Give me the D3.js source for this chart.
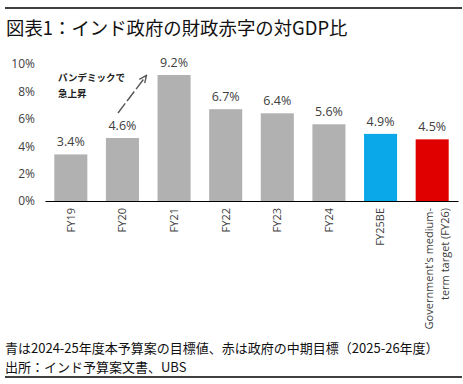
<!DOCTYPE html>
<html><head><meta charset="utf-8">
<script src="https://cdn.jsdelivr.net/npm/d3@7"></script>
<style>
body{margin:0;background:#fff;}
svg{display:block;font-family:"Noto Sans CJK JP","Noto Sans",sans-serif;}
</style></head>
<body><svg id="c" width="463" height="384"></svg>
<script>
const categories = ["FY19","FY20","FY21","FY22","FY23","FY24","FY25BE","Government's medium-\nterm target (FY26)"];
const values = [3.4,4.6,9.2,6.7,6.4,5.6,4.9,4.5];
const valueLabels = ["3.4%","4.6%","9.2%","6.7%","6.4%","5.6%","4.9%","4.5%"];
const barColors = ["#b1b1b1","#b1b1b1","#b1b1b1","#b1b1b1","#b1b1b1","#b1b1b1","#0aa8e8","#e00000"];
const yTicks = [0,2,4,6,8,10];
const title = "図表1：インド政府の財政赤字の対GDP比";
const annotation = ["パンデミックで","急上昇"];
const footnotes = ["青は2024-25年度本予算案の目標値、赤は政府の中期目標（2025-26年度）","出所：インド予算案文書、UBS"];

const svg = d3.select("#c");
const x = d3.scaleBand().domain(categories).range([45,458]).paddingInner(0.36).paddingOuter(0.18);
const y = d3.scaleLinear().domain([0,10]).range([201,64]);

// frame lines
svg.append("line").attr("x1",5).attr("x2",462).attr("y1",8).attr("y2",8).attr("stroke","#000").attr("stroke-width",1.5);
svg.append("line").attr("x1",5).attr("x2",462).attr("y1",377).attr("y2",377).attr("stroke","#000").attr("stroke-width",1.5);

svg.append("text").attr("x",6).attr("y",35).attr("font-size",18.4).attr("fill","#111").text(title);

// y axis labels
const yAxis = d3.axisLeft(y).tickValues(yTicks).tickFormat(d=>d+"%").tickSize(0).tickPadding(0);
const ya = svg.append("g").attr("transform","translate(35,0)").call(yAxis);
ya.select(".domain").remove();
ya.selectAll("text").attr("font-size",12).attr("fill","#404040").attr("font-family","'Open Sans','Noto Sans',sans-serif");

// bars
svg.selectAll("rect.bar").data(values).join("rect").attr("class","bar")
  .attr("x",(d,i)=>x(categories[i])).attr("width",x.bandwidth())
  .attr("y",d=>y(d)).attr("height",d=>y(0)-y(d))
  .attr("fill",(d,i)=>barColors[i]);

// value labels
svg.selectAll("text.vl").data(values).join("text").attr("class","vl")
  .attr("x",(d,i)=>x(categories[i])+x.bandwidth()/2).attr("y",d=>y(d)-8)
  .attr("text-anchor","middle").attr("font-size",12.5).attr("fill","#404040")
  .attr("font-family","'Open Sans','Noto Sans',sans-serif")
  .text((d,i)=>valueLabels[i]);

// x axis
const xAxis = d3.axisBottom(x).tickSize(0).tickFormat("");
const xa = svg.append("g").attr("transform","translate(0,201)").call(xAxis);
xa.select(".domain").attr("stroke","#000").attr("stroke-width",1);
xa.selectAll(".tick text").remove();
categories.forEach((c,i)=>{
  const lines = c.split("\n");
  const cx = x(c)+x.bandwidth()/2;
  const t = svg.append("text").attr("transform",`translate(${cx},208) rotate(-90)`)
    .attr("text-anchor","end").attr("font-size",11).attr("fill","#404040")
    .attr("font-family","'Open Sans','Noto Sans',sans-serif");
  const n = lines.length;
  lines.forEach((l,j)=>{
    t.append("tspan").attr("x",0).attr("dy", j===0 ? (n>1 ? "0.1em" : "0.35em") : "1.45em").text(l);
  });
});

// annotation
annotation.forEach((a,i)=>{
  svg.append("text").attr("x",58).attr("y",81+i*16).attr("font-size",9.5).attr("font-weight","bold")
    .attr("fill","#222").text(a);
});
svg.append("defs").append("marker").attr("id","ah").attr("viewBox","0 0 10 10").attr("refX",8).attr("refY",5)
  .attr("markerWidth",6).attr("markerHeight",6).attr("orient","auto")
  .append("path").attr("d","M0,1 L9,5 L0,9").attr("fill","none").attr("stroke","#555").attr("stroke-width",1.6);
svg.append("line").attr("x1",118).attr("y1",113).attr("x2",146).attr("y2",76)
  .attr("stroke","#555").attr("stroke-width",1.4).attr("stroke-dasharray","12,3").attr("marker-end","url(#ah)");

// footnotes
footnotes.forEach((f,i)=>{
  svg.append("text").attr("x",5).attr("y",353+i*19).attr("font-size",13).attr("fill","#111").text(f);
});
</script></body></html>
